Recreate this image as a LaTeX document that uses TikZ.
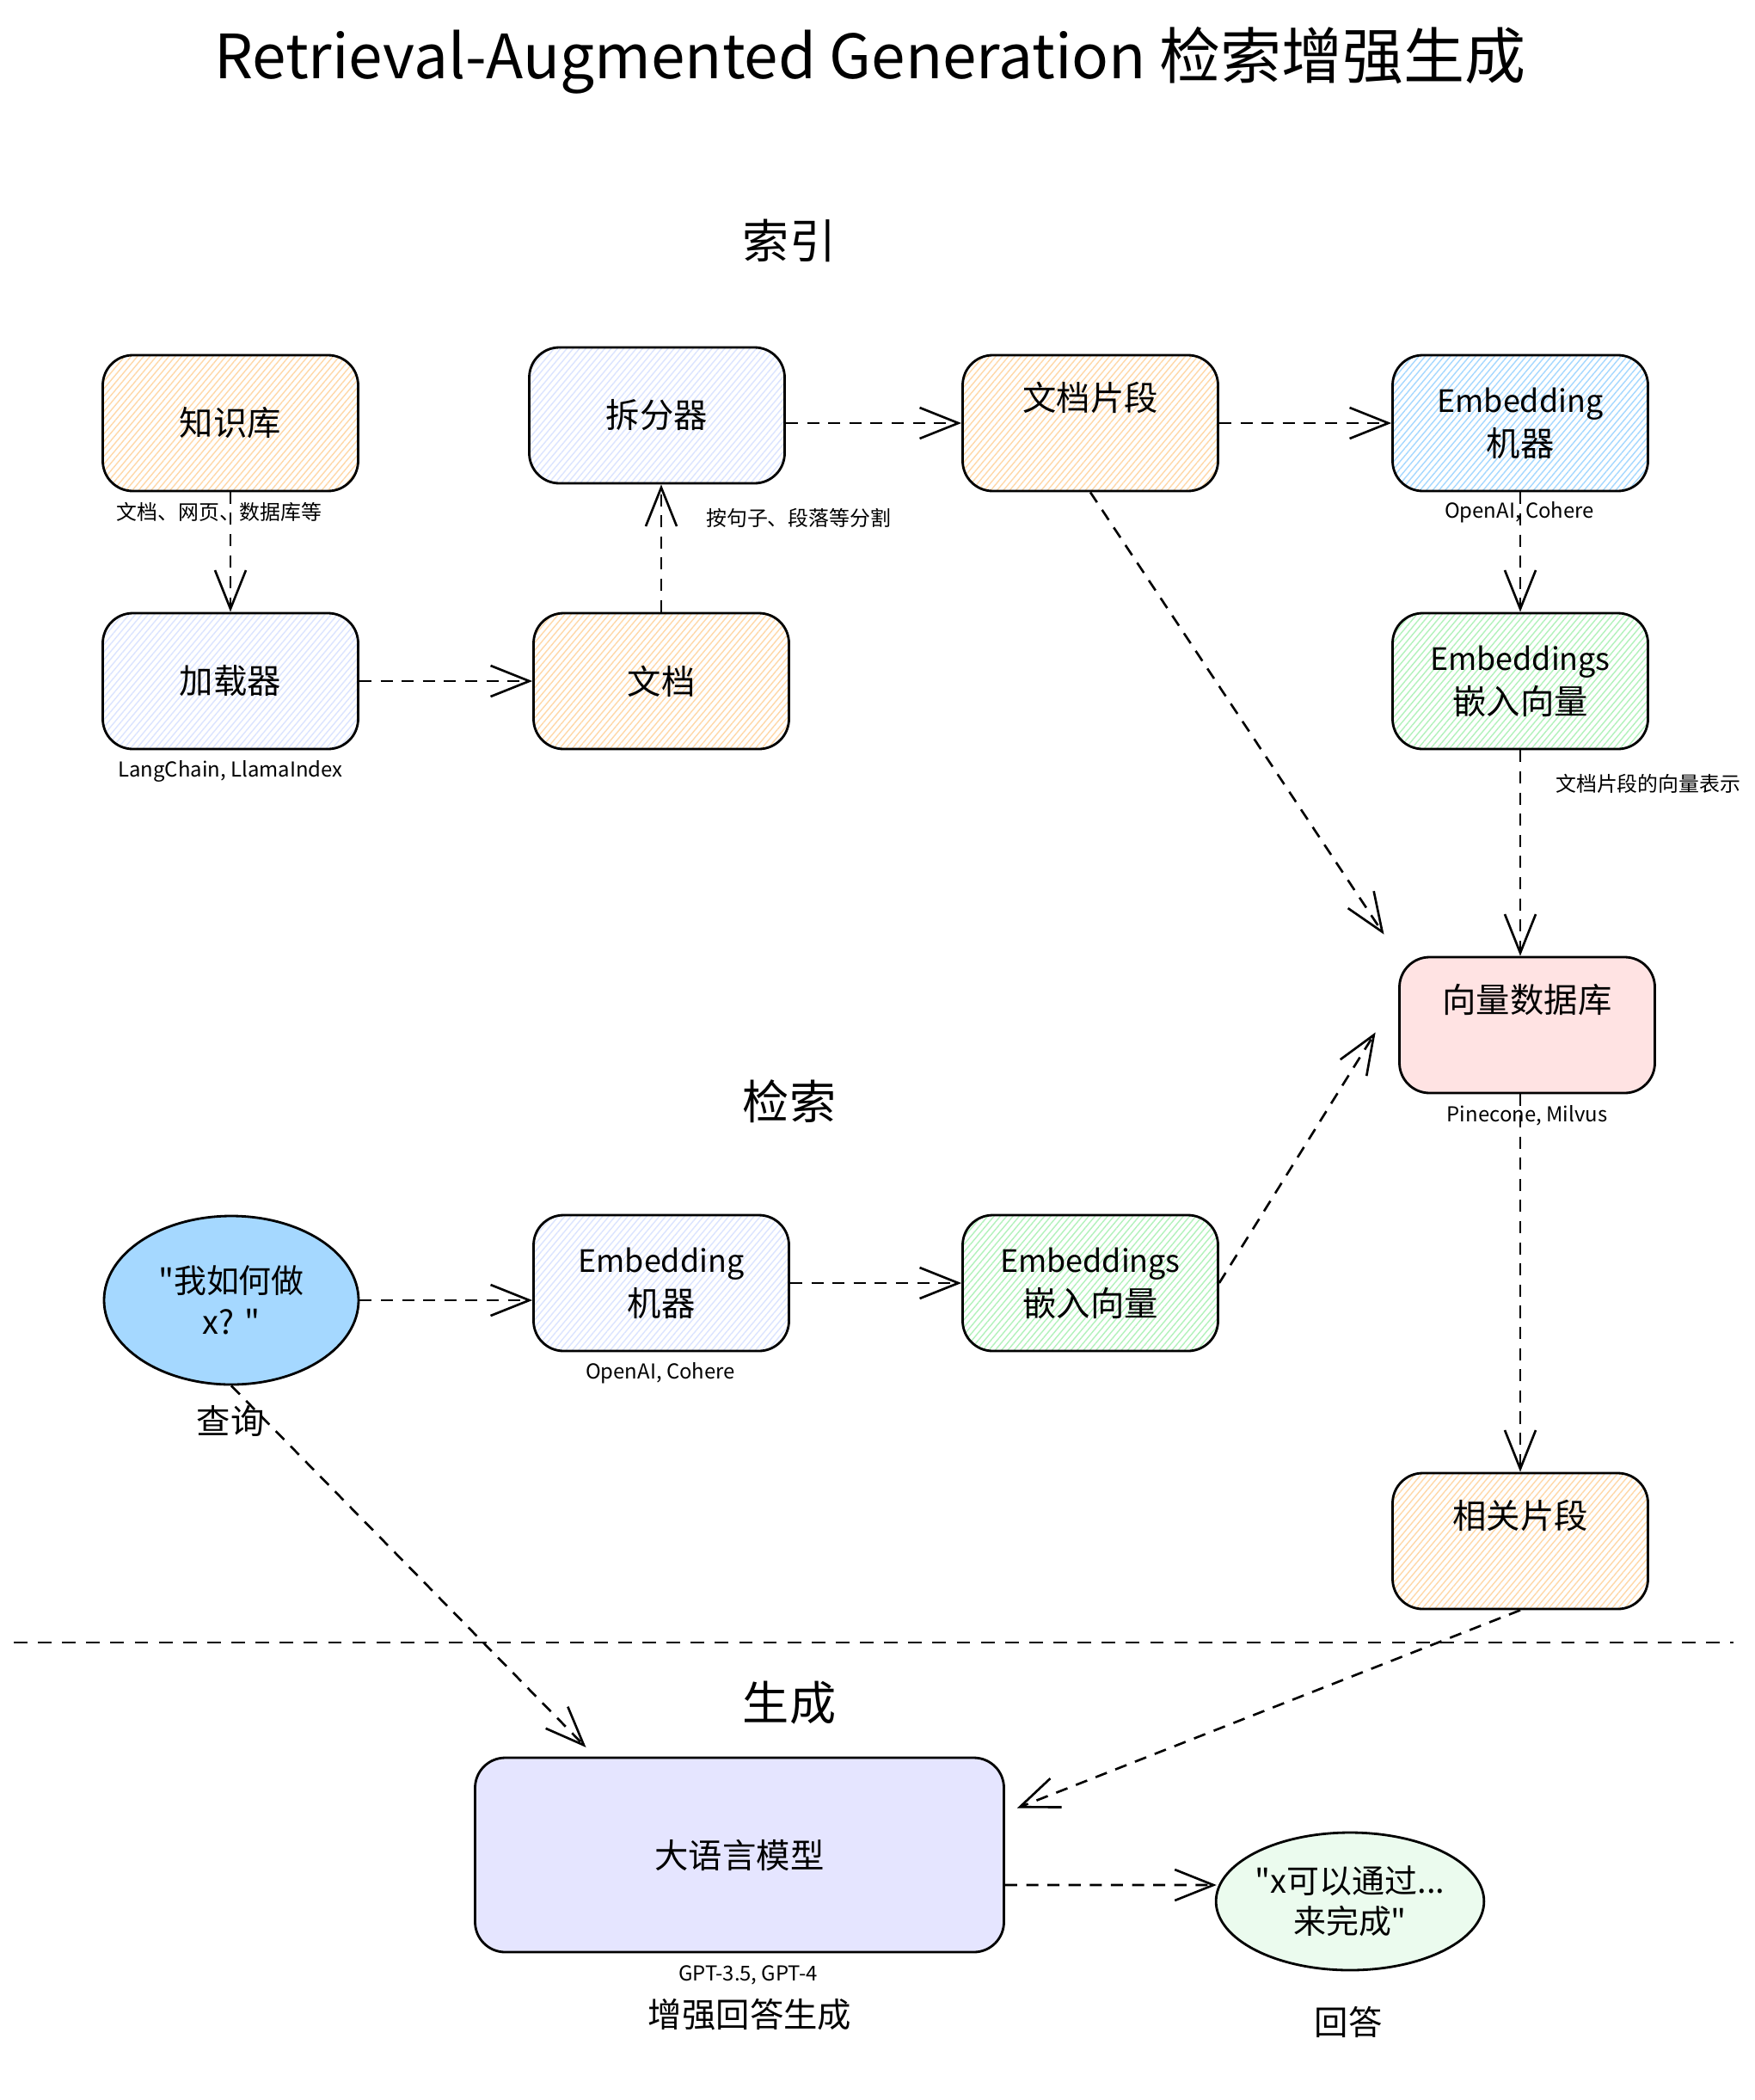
\documentclass[tikz,border=0pt]{standalone}
\usepackage{fontspec}
\usepackage{tikz}
\usepackage{xcolor}
\usetikzlibrary{shapes.geometric, arrows.meta, positioning, patterns.meta, calc}
\newfontfamily\cjkfont{Noto Sans CJK SC}
\newcommand{\latinword}[1]{{\fontsize{10.2}{14.5}\selectfont #1}}
\definecolor{Peach_Hatch}{HTML}{FFD8A8}
\definecolor{Mist_Hatch}{HTML}{DBE4FF}
\definecolor{Sky_Hatch}{HTML}{A5D8FF}
\definecolor{Mint_Hatch}{HTML}{B2F2BB}
\definecolor{Rose_Fill}{HTML}{FFE3E3}
\definecolor{Lilac_Fill}{HTML}{E5E5FF}
\definecolor{Query_Fill}{HTML}{A5D8FF}
\definecolor{Answer_Fill}{HTML}{EBFBEE}

\begin{document}
\begin{tikzpicture}[
    box/.style={draw, line width=0.8pt, rounded corners=0.35cm,
        minimum width=2.97cm, minimum height=1.58cm, align=center,
        font=\cjkfont\fontsize{11.2}{14.5}\selectfont},
    hatched/.style={pattern={Lines[angle=50, distance=1.6pt, line width=0.4pt]},
        pattern color=#1},
    raised/.style={text depth=0.62cm},
    blob/.style={draw, line width=0.8pt, ellipse, align=center, inner sep=0pt,
        font=\cjkfont\fontsize{10.8}{13.5}\selectfont},
    note/.style={font=\cjkfont\fontsize{6.8}{8}\selectfont, inner sep=1pt},
    caption/.style={font=\cjkfont\fontsize{11.2}{13}\selectfont, inner sep=1pt},
    heading/.style={font=\cjkfont\fontsize{15.4}{18}\selectfont},
    flow/.style={line width=0.75pt, dash pattern=on 4pt off 3pt,
        -{Straight Barb[length=0.45cm, width=0.36cm]}}
]
    \useasboundingbox[fill=white] (0,0) rectangle (20.40,-24.42);

    % Title and the three stages
    \node[font=\cjkfont\fontsize{20.2}{24}\selectfont] (title) at (10.12,-0.70)
        {Retrieval-Augmented Generation 检索增强生成};
    \foreach \h/\y/\t in {hidx/-2.80/索引, hret/-12.81/检索, hgen/-19.80/生成} {
        \node[heading] (\h) at (9.18,\y) {\t};
    }

    % Indexing
    \node[box, hatched=Peach_Hatch] (kb) at (2.68,-4.92) {知识库};
    \node[box, hatched=Mist_Hatch] (splitter) at (7.64,-4.83) {拆分器};
    \node[box, raised, hatched=Peach_Hatch] (seg) at (12.68,-4.92) {文档片段};
    \node[box, hatched=Sky_Hatch] (emb) at (17.68,-4.92) {\latinword{Embedding}\\机器};
    \node[box, hatched=Mist_Hatch] (loader) at (2.68,-7.92) {加载器};
    \node[box, hatched=Peach_Hatch] (doc) at (7.69,-7.92) {文档};
    \node[box, hatched=Mint_Hatch] (vec) at (17.68,-7.92) {\latinword{Embeddings}\\嵌入向量};
    \node[box, raised, fill=Rose_Fill] (vdb) at (17.76,-11.92) {向量数据库};

    \node[note] (kbnote) at (2.55,-5.95) {文档、网页、数据库等};
    \node[note] (loadernote) at (2.68,-8.97) {LangChain, LlamaIndex};
    \node[note, anchor=west] (splitnote) at (8.17,-6.02) {按句子、段落等分割};
    \node[note] (embnote) at (17.67,-5.96) {OpenAI, Cohere};
    \node[note, anchor=west] (vecnote) at (18.05,-9.11) {文档片段的向量表示};
    \node[note] (vdbnote) at (17.76,-12.97) {Pinecone, Milvus};

    % Retrieval
    \node[blob, fill=Query_Fill, minimum width=2.96cm, minimum height=1.96cm]
        (query) at (2.69,-15.12) {"我如何做\\x? "};
    \node[caption, fill=white] (querycap) at (2.68,-16.52) {查询};
    \node[box, hatched=Mist_Hatch] (qemb) at (7.69,-14.92) {\latinword{Embedding}\\机器};
    \node[note] (qembnote) at (7.68,-15.97) {OpenAI, Cohere};
    \node[box, hatched=Mint_Hatch] (qvec) at (12.68,-14.92) {\latinword{Embeddings}\\嵌入向量};
    \node[box, raised, hatched=Peach_Hatch] (rel) at (17.68,-17.92) {相关片段};

    % Generation
    \draw[line width=0.6pt, dash pattern=on 4.5pt off 3.5pt] (0.16,-19.10) -- (20.16,-19.10);
    \node[box, fill=Lilac_Fill, minimum width=6.15cm, minimum height=2.26cm]
        (llm) at (8.60,-21.57) {大语言模型};
    \node[note] (llmnote) at (8.70,-22.97) {GPT-3.5, GPT-4};
    \node[caption] (llmcap) at (8.72,-23.43) {增强回答生成};
    \node[blob, fill=Answer_Fill, minimum width=3.00cm, minimum height=1.60cm]
        (ans) at (15.70,-22.11) {"x可以通过...\\来完成"};
    \node[caption] (anscap) at (15.68,-23.51) {回答};

    % Connectors
    \draw[flow] (kb.south) -- (loader.north);
    \draw[flow] (loader.east) -- (doc.west);
    \draw[flow] (doc.north) -- (doc.north |- splitter.south);
    \draw[flow] (splitter.east |- seg.west) -- (seg.west);
    \draw[flow] (seg.east) -- (emb.west);
    \draw[flow] (emb.south) -- (vec.north);
    \draw[flow] (vec.south) -- (vec.south |- vdb.north);
    \draw[flow, shorten >=0.3cm] (seg.south) -- (vdb.north west);
    \draw[flow] (query.east) -- (qemb.west |- query.east);
    \draw[flow] (qemb.east) -- (qvec.west);
    \draw[flow, shorten >=0.5cm] (qvec.east) -- ($(vdb.west)+(0,0.34)$);
    \draw[flow] (rel.north |- vdb.south) -- (rel.north);
    \draw[flow, shorten >=0.15cm] (rel.south) -- ($(llm.east)+(0,0.49)$);
    \draw[flow, shorten >=0.15cm] (query.south) -- ($(llm.north)+(-1.68,0)$);
    \draw[flow] ($(llm.east)+(0,-0.35)$) -- ($(ans.west)+(0.02,0.19)$);
\end{tikzpicture}
\end{document}
